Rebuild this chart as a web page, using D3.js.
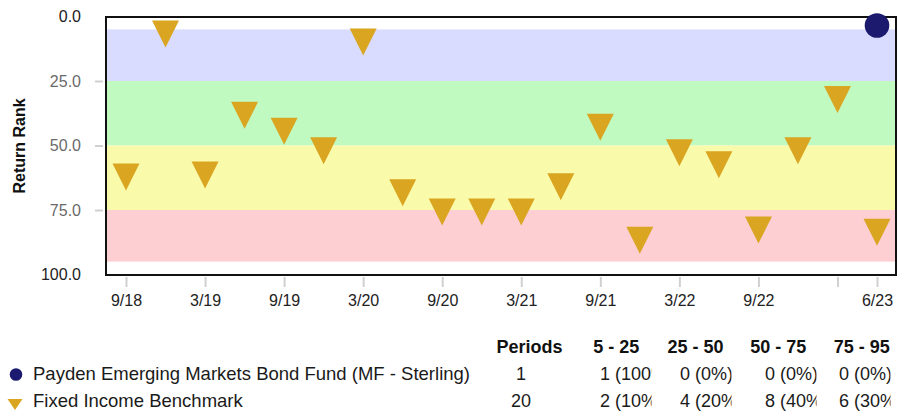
<!DOCTYPE html>
<html>
<head>
<meta charset="utf-8">
<script src="https://cdn.jsdelivr.net/npm/d3@7"></script>
<style>
  body { margin: 0; background: #fff; }
  svg text { font-family: "Liberation Sans", Arial, Helvetica, sans-serif; }
</style>
</head>
<body>
<div id="chart-area"></div>
<script>
// quarterly return rank chart

var periods = ["9/18","12/18","3/19","6/19","9/19","12/19","3/20","6/20","9/20","12/20",
               "3/21","6/21","9/21","12/21","3/22","6/22","9/22","12/22","3/23","6/23"];
var benchmarkRanks = [62.2, 6.8, 61.4, 38.3, 44.5, 52.0, 9.9, 68.3, 75.8, 75.8,
                      75.8, 66.0, 42.9, 86.7, 52.8, 57.5, 82.8, 52.0, 32.2, 83.6];
var fundPeriods = ["6/23"];
var fundRanks = [3.5];

var tickPeriods = ["9/18","3/19","9/19","3/20","9/20","3/21","9/21","3/22","9/22","3/23","6/23"];
var tickLabels  = ["9/18","3/19","9/19","3/20","9/20","3/21","9/21","3/22","9/22","","6/23"];
var yTicks = [0, 25, 50, 75, 100];

var bandFrom = [5, 25, 50, 75];
var bandTo = [25, 50, 75, 95];
var bandColors = ["#dadcff", "#c1fac1", "#fafaab", "#fdcfd3"];

var tableHeaders = ["Periods", "5 - 25", "25 - 50", "50 - 75", "75 - 95"];
var seriesNames = ["Payden Emerging Markets Bond Fund (MF - Sterling)", "Fixed Income Benchmark"];
var seriesPeriodCounts = ["1", "20"];
var seriesBandCounts = [
  ["1 (100%)", "0 (0%)", "0 (0%)", "0 (0%)"],
  ["2 (10%)", "4 (20%)", "8 (40%)", "6 (30%)"]
];

var fundColor = "#1b1a6e",
    benchColor = "#daa520";

var width = 903, height = 412;
var plot = { left: 106, right: 896, top: 17, bottom: 275 };

var svg = d3.select("#chart-area")
    .append("svg")
    .attr("width", width)
    .attr("height", height);

var x = d3.scalePoint()
    .domain(periods)
    .range([126, 877]);

var y = d3.scaleLinear()
    .domain([0, 100])
    .range([16.5, 274.5]);

// shaded rank bands
svg.selectAll(".band")
    .data(bandFrom)
  .enter().append("rect")
    .attr("x", plot.left)
    .attr("width", plot.right - plot.left)
    .attr("y", function(d) { return y(d); })
    .attr("height", function(d, i) { return y(bandTo[i]) - y(d); })
    .attr("fill", function(d, i) { return bandColors[i]; });

// frame
svg.append("rect")
    .attr("x", plot.left)
    .attr("y", plot.top)
    .attr("width", plot.right - plot.left)
    .attr("height", plot.bottom - plot.top)
    .attr("fill", "none")
    .attr("stroke", "#111")
    .attr("stroke-width", 2);

// y axis
var yAxis = svg.append("g")
    .attr("transform", "translate(103,0)")
    .call(d3.axisLeft(y).tickValues(yTicks).tickFormat(d3.format(".1f")).tickSize(8).tickPadding(14));
yAxis.select(".domain").remove();
yAxis.selectAll(".tick line")
    .attr("stroke", "#d0d0d0")
    .attr("stroke-width", 2)
    .attr("opacity", function(d) { return d === 0 || d === 100 ? 0 : 1; });
yAxis.selectAll(".tick text")
    .attr("font-size", 16)
    .attr("font-family", null)
    .attr("fill", function(d) { return d === 0 || d === 100 ? "#222" : "#6a6a6a"; });

svg.append("text")
    .attr("transform", "translate(25," + ((plot.top + plot.bottom) / 2) + ") rotate(-90)")
    .attr("text-anchor", "middle")
    .attr("font-size", 16)
    .attr("font-weight", "bold")
    .attr("fill", "#111")
    .text("Return Rank");

// x axis
var xAxis = svg.append("g")
    .attr("transform", "translate(0,277)")
    .call(d3.axisBottom(x).tickValues(tickPeriods)
        .tickFormat(function(d, i) { return tickLabels[i]; })
        .tickSize(10).tickPadding(8));
xAxis.select(".domain").remove();
xAxis.selectAll(".tick line")
    .attr("stroke", "#d0d0d0")
    .attr("stroke-width", 2);
xAxis.selectAll(".tick text")
    .attr("font-size", 16)
    .attr("font-family", null)
    .attr("fill", "#222");

// benchmark triangles
var tri = function(cx, cy, w, h) {
  return "M" + (cx - w / 2) + "," + (cy - h / 2) + "L" + (cx + w / 2) + "," + (cy - h / 2) +
         "L" + cx + "," + (cy + h / 2) + "Z";
};

svg.selectAll(".bench")
    .data(benchmarkRanks)
  .enter().append("path")
    .attr("d", function(d, i) { return tri(x(periods[i]), y(d), 27, 27); })
    .attr("fill", benchColor);

svg.selectAll(".fund")
    .data(fundRanks)
  .enter().append("circle")
    .attr("cx", function(d, i) { return x(fundPeriods[i]); })
    .attr("cy", function(d) { return y(d); })
    .attr("r", 12.3)
    .attr("fill", fundColor);

// summary table
var headerX = [529.5, 616.3, 695.5, 778.3, 861.7];
var colStart = [600, 680, 765, 839];
var colWidth = 51.5;
var rowY = [380, 406.7];

svg.selectAll(".hdr")
    .data(tableHeaders)
  .enter().append("text")
    .attr("x", function(d, i) { return headerX[i]; })
    .attr("y", 353.3)
    .attr("text-anchor", "middle")
    .attr("font-size", 18)
    .attr("font-weight", "bold")
    .attr("fill", "#111")
    .text(function(d) { return d; });

var defs = svg.append("defs");
colStart.forEach(function(cx, i) {
  defs.append("clipPath")
      .attr("id", "col" + i)
    .append("rect")
      .attr("x", cx)
      .attr("y", 355)
      .attr("width", colWidth)
      .attr("height", 60);
});

var rows = svg.selectAll(".row")
    .data(seriesNames)
  .enter().append("g");

rows.append("text")
    .attr("x", 33)
    .attr("y", function(d, i) { return rowY[i]; })
    .attr("font-size", 18.5)
    .attr("fill", "#1a1a1a")
    .text(function(d) { return d; });

rows.append("text")
    .attr("x", 521)
    .attr("y", function(d, i) { return rowY[i]; })
    .attr("text-anchor", "middle")
    .attr("font-size", 18)
    .attr("fill", "#1a1a1a")
    .text(function(d, i) { return seriesPeriodCounts[i]; });

rows.each(function(d, r) {
  d3.select(this).selectAll(".cell")
      .data(seriesBandCounts[r])
    .enter().append("text")
      .attr("x", function(v, j) { return colStart[j]; })
      .attr("y", rowY[r])
      .attr("clip-path", function(v, j) { return "url(#col" + j + ")"; })
      .attr("font-size", 18)
      .attr("fill", "#1a1a1a")
      .text(function(v) { return v; });
});

// legend markers
svg.append("circle")
    .attr("cx", 16)
    .attr("cy", 374.5)
    .attr("r", 6.3)
    .attr("fill", fundColor);

svg.append("path")
    .attr("d", tri(15, 404.5, 15, 11))
    .attr("fill", benchColor);
</script>
</body>
</html>
